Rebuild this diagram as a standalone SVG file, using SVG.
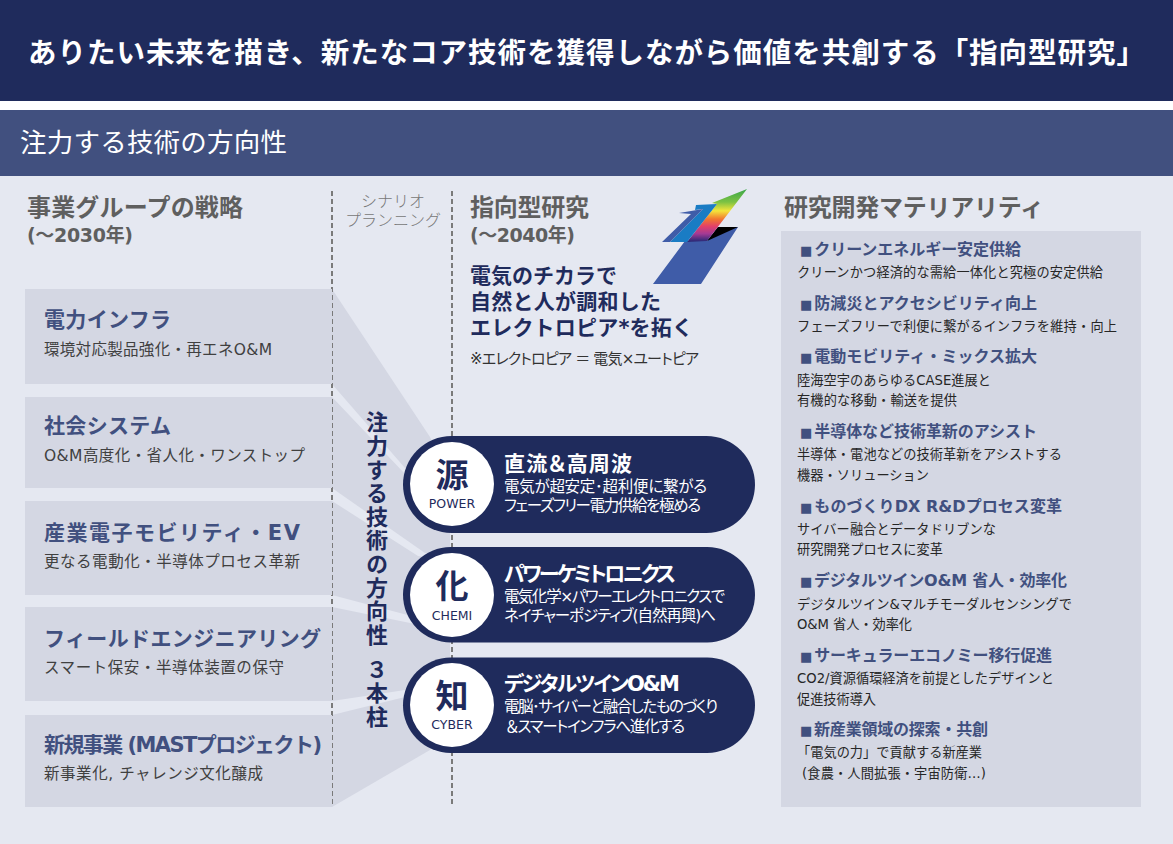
<svg xmlns="http://www.w3.org/2000/svg" width="1173" height="844" viewBox="0 0 1173 844">
<style>
text{font-family:"DejaVu Sans","Noto Sans CJK JP",sans-serif}
.box{fill:#d4d7e3}
.sec{font-size:24px;font-weight:700;fill:#5f5f5f}
.yr{font-size:19px;font-weight:700;fill:#5f5f5f}
.bh{font-size:21px;font-weight:700;fill:#41507f}
.bd{font-size:15.500px;fill:#404040}
.ph{font-size:21px;font-weight:700;fill:#fff;font-feature-settings:"palt"}
.pd{font-size:15.500px;fill:#fff;font-feature-settings:"palt"}
.pill{fill:#1f2b5c}
.kan{font-size:33px;font-weight:700;fill:#1f2b5c;text-anchor:middle}
.en{font-size:12.500px;fill:#1f2b5c;text-anchor:middle}
.mh{font-size:16px;font-weight:700;fill:#41507f}
.bu{font-size:13px}
.md{font-size:13.200px;fill:#262626}
.vis{font-size:21px;font-weight:700;fill:#1f2b5c}
.dash{stroke:#7a7a7a;stroke-width:2;stroke-dasharray:5 3;fill:none}
</style>
<defs>
<linearGradient id="rainbow" gradientUnits="userSpaceOnUse" x1="0" y1="189" x2="0" y2="241">
<stop offset="0" stop-color="#3aa64a"/><stop offset="0.25" stop-color="#7cc243"/><stop offset="0.42" stop-color="#f4e53a"/><stop offset="0.58" stop-color="#f2772f"/><stop offset="0.72" stop-color="#e2406a"/><stop offset="0.86" stop-color="#a43a95"/><stop offset="1" stop-color="#2f2a78"/>
</linearGradient>
</defs>
<rect width="1173" height="844" fill="#e5e8f1"/>
<rect width="1173" height="101" fill="#1f2b5c"/>
<rect y="101" width="1173" height="9" fill="#fff"/>
<rect y="110" width="1173" height="66" fill="#41507f"/>
<text x="28" y="63" font-size="28.500" font-weight="700" fill="#fff" textLength="1117">ありたい未来を描き、新たなコア技術を獲得しながら価値を共創する「指向型研究」</text>
<text x="20" y="152" font-size="26.500" fill="#fff" textLength="267">注力する技術の方向性</text>

<g id="connectors">
<polygon class="box" points="332,289 430,437 450,480 405,468 332,384"/>
<polygon class="box" points="332,397 405,474 450,500 450,553 425,553 332,488"/>
<polygon class="box" points="332,501 418,556 450,560 450,617 415,617 332,595"/>
<polygon class="box" points="332,607 415,624 450,640 450,690 405,690 332,701"/>
<polygon class="box" points="332,715 405,697 450,720 430,750 332,807"/>
</g>
<path class="dash" d="M332 191V807M452 191V807"/>

<g id="col-heads">
<text class="sec" x="27" y="216" textLength="216">事業グループの戦略</text>
<text class="yr" x="27" y="242" textLength="106">(～2030年)</text>
<text x="393" y="207" font-size="16" fill="#777" font-weight="300" text-anchor="middle">シナリオ</text>
<text x="393" y="226" font-size="16" fill="#777" font-weight="300" text-anchor="middle">プランニング</text>
<text class="sec" x="470" y="216" textLength="119">指向型研究</text>
<text class="yr" x="470" y="242" textLength="105">(～2040年)</text>
<text class="sec" x="784" y="216" textLength="260">研究開発マテリアリティ</text>
</g>

<g id="box-power-infra"><rect class="box" x="25" y="289" width="307" height="95"/><text class="bh" x="44" y="327" textLength="127">電力インフラ</text><text class="bd" x="44" y="355" textLength="228">環境対応製品強化・再エネO&amp;M</text></g>
<g id="box-social"><rect class="box" x="25" y="397" width="307" height="91"/><text class="bh" x="44" y="433" textLength="127">社会システム</text><text class="bd" x="44" y="461" textLength="261">O&amp;M高度化・省人化・ワンストップ</text></g>
<g id="box-industry"><rect class="box" x="25" y="501" width="307" height="94"/><text class="bh" x="44" y="540" textLength="256">産業電子モビリティ・EV</text><text class="bd" x="44" y="567" textLength="256">更なる電動化・半導体プロセス革新</text></g>
<g id="box-field"><rect class="box" x="25" y="607" width="307" height="94"/><text class="bh" x="44" y="646" textLength="277">フィールドエンジニアリング</text><text class="bd" x="44" y="673" textLength="240">スマート保安・半導体装置の保守</text></g>
<g id="box-new"><rect class="box" x="25" y="715" width="307" height="92"/><text class="bh" x="44" y="752" textLength="278">新規事業 (MASTプロジェクト)</text><text class="bd" x="44" y="779" textLength="219">新事業化, チャレンジ文化醸成</text></g>

<text id="vertical-label" x="377" y="411" font-size="22" font-weight="700" fill="#1f2b5c" letter-spacing="1.600" style="writing-mode:vertical-rl;text-orientation:upright;font-family:'Noto Sans CJK JP',sans-serif">注力する技術の方向性 <tspan y="658">３本柱</tspan></text>

<g id="logo">
<polygon points="653,284 701,284 738,227 718,227 707,241 685,241" fill="#3f5ca8"/>
<polygon points="718,227 738,227 707,241" fill="#000"/>
<polygon points="747,189 707,241 687,242 717,204 712,203" fill="url(#rainbow)"/>
<polygon points="696,205 717,204 687,242 670,242 703,209 695,210" fill="#1a7cc4"/>
<polygon points="679,213 703,209 670,242 662,242 691,214" fill="#3f5ca8"/>
</g>
<g id="vision">
<text class="vis" x="470" y="283" textLength="147">電気のチカラで</text>
<text class="vis" x="470" y="309" textLength="191">自然と人が調和した</text>
<text class="vis" x="470" y="335" textLength="223">エレクトロピア*を拓く</text>
<text x="470" y="364" font-size="15" fill="#333" textLength="229" style="font-feature-settings:'palt'">※エレクトロピア  ＝  電気×ユートピア</text>
</g>

<g id="pill-power"><rect class="pill" x="403" y="436" width="352" height="97" rx="48.500"/><circle cx="452" cy="484" r="42" fill="#fff"/><text class="kan" x="452" y="487">源</text><text class="en" x="452" y="508">POWER</text><text class="ph" x="504" y="471" textLength="128">直流＆高周波</text><text class="pd" x="504" y="492" textLength="203">電気が超安定･超利便に繋がる</text><text class="pd" x="504" y="511" textLength="197">フェーズフリー電力供給を極める</text></g>
<g id="pill-chemi"><rect class="pill" x="403" y="547" width="352" height="95.500" rx="47.700"/><circle cx="452" cy="595" r="42" fill="#fff"/><text class="kan" x="452" y="598">化</text><text class="en" x="452" y="620">CHEMI</text><text class="ph" x="504" y="581" textLength="172">パワーケミトロニクス</text><text class="pd" x="504" y="602" textLength="221">電気化学×パワーエレクトロニクスで</text><text class="pd" x="504" y="621" textLength="212">ネイチャーポジティブ(自然再興)へ</text></g>
<g id="pill-cyber"><rect class="pill" x="403" y="657.500" width="352" height="95.500" rx="47.700"/><circle cx="452" cy="705" r="42" fill="#fff"/><text class="kan" x="452" y="708">知</text><text class="en" x="452" y="729">CYBER</text><text class="ph" x="504" y="691" textLength="176">デジタルツインO&amp;M</text><text class="pd" x="504" y="712" textLength="214">電脳･サイバーと融合したものづくり</text><text class="pd" x="506" y="732" textLength="179">＆スマートインフラへ進化する</text></g>

<g id="materiality">
<rect class="box" x="781" y="231" width="360" height="576"/>
<text class="mh" x="800" y="255" textLength="221"><tspan class="bu">■</tspan><tspan dx="2">クリーンエネルギー安定供給</tspan></text>
<text class="md" x="797" y="277" textLength="306">クリーンかつ経済的な需給一体化と究極の安定供給</text>
<text class="mh" x="800" y="309" textLength="237"><tspan class="bu">■</tspan><tspan dx="2">防減災とアクセシビリティ向上</tspan></text>
<text class="md" x="797" y="331" textLength="320">フェーズフリーで利便に繋がるインフラを維持・向上</text>
<text class="mh" x="800" y="362" textLength="237"><tspan class="bu">■</tspan><tspan dx="2">電動モビリティ・ミックス拡大</tspan></text>
<text class="md" x="797" y="385" textLength="194">陸海空宇のあらゆるCASE進展と</text>
<text class="md" x="797" y="405" textLength="160">有機的な移動・輸送を提供</text>
<text class="mh" x="800" y="437" textLength="237"><tspan class="bu">■</tspan><tspan dx="2">半導体など技術革新のアシスト</tspan></text>
<text class="md" x="797" y="459" textLength="265">半導体・電池などの技術革新をアシストする</text>
<text class="md" x="797" y="480" textLength="132">機器・ソリューション</text>
<text class="mh" x="800" y="512" textLength="262"><tspan class="bu">■</tspan><tspan dx="2">ものづくりDX  R&amp;Dプロセス変革</tspan></text>
<text class="md" x="797" y="534" textLength="199">サイバー融合とデータドリブンな</text>
<text class="md" x="797" y="554" textLength="146">研究開発プロセスに変革</text>
<text class="mh" x="800" y="586" textLength="267"><tspan class="bu">■</tspan><tspan dx="2">デジタルツインO&amp;M 省人・効率化</tspan></text>
<text class="md" x="797" y="609" textLength="275">デジタルツイン&amp;マルチモーダルセンシングで</text>
<text class="md" x="797" y="629" textLength="115">O&amp;M 省人・効率化</text>
<text class="mh" x="800" y="661" textLength="252"><tspan class="bu">■</tspan><tspan dx="2">サーキュラーエコノミー移行促進</tspan></text>
<text class="md" x="797" y="683" textLength="257">CO2/資源循環経済を前提としたデザインと</text>
<text class="md" x="797" y="704" textLength="79">促進技術導入</text>
<text class="mh" x="800" y="735" textLength="188"><tspan class="bu">■</tspan><tspan dx="2">新産業領域の探索・共創</tspan></text>
<text class="md" x="797" y="757" textLength="185">「電気の力」で貢献する新産業</text>
<text class="md" x="802" y="778" textLength="184">(食農・人間拡張・宇宙防衛…)</text>
</g>
</svg>
